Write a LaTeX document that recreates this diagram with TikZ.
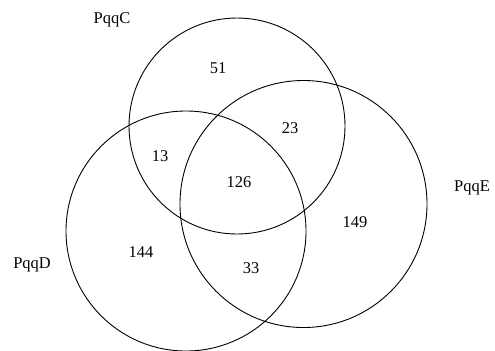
\documentclass[tikz,border=0pt]{standalone}
\usepackage{fontspec}
\setmainfont{Liberation Serif}
\begin{document}
\begin{tikzpicture}[x=1bp,y=-1bp,
  setcircle/.style={draw=black,line width=0.9bp},
  lbl/.style={font=\fontsize{16.5}{18}\selectfont,inner sep=0pt}]
\useasboundingbox (0,0) rectangle (495,350);
% the three sets
\draw[setcircle] (237,126) circle[radius=108bp];
\draw[setcircle] (186,231) circle[radius=120bp];
\draw[setcircle] (303.5,204) circle[radius=123.5bp];
% set names
\node[lbl] (nC) at (112,20) {PqqC};
\node[lbl] (nD) at (32,265) {PqqD};
\node[lbl] (nE) at (472,188) {PqqE};
% region counts
\node[lbl] (c) at (218,68) {51};
\node[lbl] (ce) at (290,128) {23};
\node[lbl] (cd) at (160,156) {13};
\node[lbl] (cde) at (239,182) {126};
\node[lbl] (e) at (355,222) {149};
\node[lbl] (d) at (141,252) {144};
\node[lbl] (de) at (251,268) {33};
\end{tikzpicture}
\end{document}
